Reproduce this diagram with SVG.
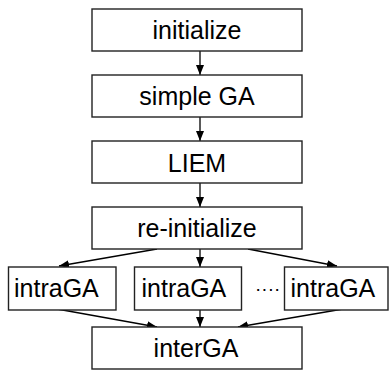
<svg xmlns="http://www.w3.org/2000/svg" width="389" height="371" viewBox="0 0 389 371">
  <style>
    .box { fill: #fff; stroke: #222; stroke-width: 1.4; }
    .lbl { font-family: "Liberation Sans", Arial, sans-serif; font-size: 25px; fill: #000; }
    .mid { text-anchor: middle; }
    .edge { stroke: #000; stroke-width: 1.3; fill: none; marker-end: url(#arrow); }
  </style>
  <defs>
    <marker id="arrow" viewBox="0 0 10 8" refX="10" refY="4" markerWidth="10" markerHeight="8" markerUnits="userSpaceOnUse" orient="auto">
      <path d="M0,0 L10,4 L0,8 Z" fill="#000"/>
    </marker>
  </defs>
  <rect width="389" height="371" fill="#fff"/>

  <g id="connectors">
    <line class="edge" x1="200" y1="51" x2="200" y2="75"/>
    <line class="edge" x1="200" y1="117" x2="200" y2="141"/>
    <line class="edge" x1="200" y1="183" x2="200" y2="207"/>
    <line class="edge" x1="157" y1="249" x2="59" y2="266"/>
    <line class="edge" x1="200" y1="249" x2="200" y2="267"/>
    <line class="edge" x1="248" y1="249" x2="337" y2="266"/>
    <line class="edge" x1="57" y1="309" x2="157" y2="327"/>
    <line class="edge" x1="200" y1="310" x2="200" y2="327"/>
    <line class="edge" x1="343" y1="309" x2="238" y2="327"/>
  </g>

  <g id="initialize">
    <rect class="box" x="92" y="9" width="210" height="42"/>
    <text class="lbl mid" x="197" y="39">initialize</text>
  </g>
  <g id="simpleGA">
    <rect class="box" x="92" y="75" width="210" height="42"/>
    <text class="lbl mid" x="197" y="105">simple GA</text>
  </g>
  <g id="LIEM">
    <rect class="box" x="92" y="141" width="210" height="42"/>
    <text class="lbl mid" x="197" y="171.5">LIEM</text>
  </g>
  <g id="reinitialize">
    <rect class="box" x="92" y="207" width="210" height="42"/>
    <text class="lbl mid" x="197" y="237">re-initialize</text>
  </g>
  <g id="intraGA1">
    <rect class="box" x="8.5" y="267" width="107.5" height="43"/>
    <text class="lbl" x="14" y="296.5">intraGA</text>
  </g>
  <g id="intraGA2">
    <rect class="box" x="134.5" y="267" width="107" height="43"/>
    <text class="lbl" x="141.5" y="296.5">intraGA</text>
  </g>
  <g id="dots">
    <text class="lbl" x="255" y="294.5" style="font-size:19px">····</text>
  </g>
  <g id="intraGA3">
    <rect class="box" x="284.5" y="267" width="103.5" height="43"/>
    <text class="lbl" x="290.5" y="296.5">intraGA</text>
  </g>
  <g id="interGA">
    <rect class="box" x="92" y="327" width="210" height="42"/>
    <text class="lbl mid" x="196" y="356.5">interGA</text>
  </g>
</svg>
